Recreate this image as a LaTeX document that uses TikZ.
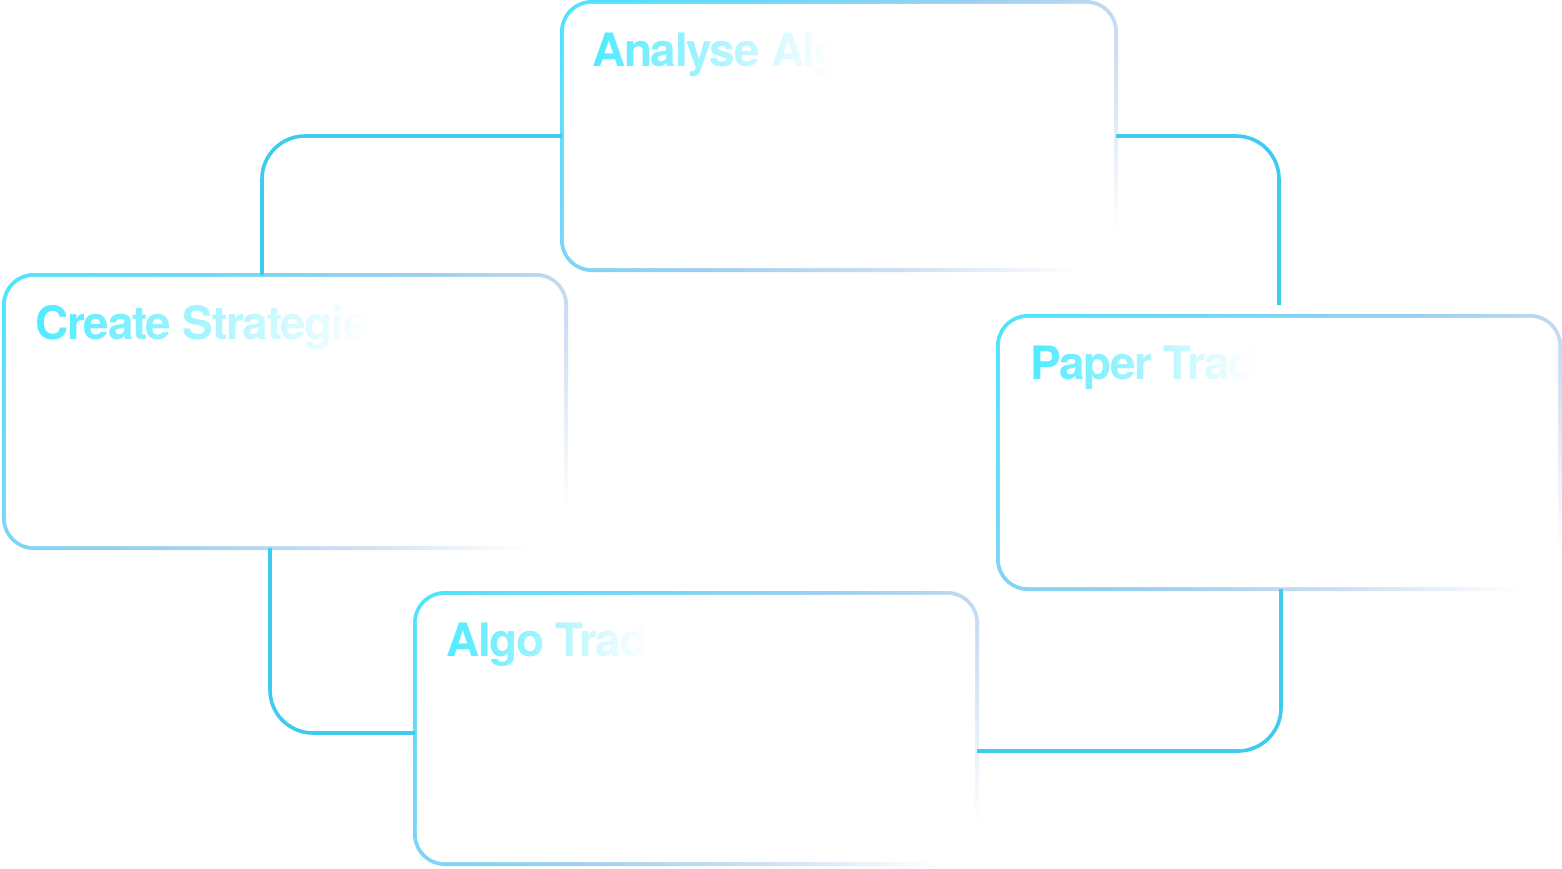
\documentclass[tikz,border=0pt]{standalone}
\usepackage{fontspec}
\setmainfont{TeX Gyre Heros}[LetterSpace=-3]
\usetikzlibrary{fadings}
\definecolor{bordA}{HTML}{4BE4FF}
\definecolor{bordB}{HTML}{70D8F6}
\definecolor{bordM}{HTML}{9CCFEF}
\definecolor{bordD}{HTML}{CFDEF2}
\definecolor{connC}{HTML}{3DCCF0}
\definecolor{txtC}{HTML}{4FEBFF}
\pgfdeclarehorizontalshading{bordershade}{100bp}{color(0bp)=(bordA); color(15bp)=(bordA); color(32bp)=(bordB); color(50bp)=(bordM); color(67bp)=(bordD); color(82bp)=(white); color(100bp)=(white)}
\tikzfading[name=fadeR, left color=transparent!100, right color=transparent!0]
\begin{document}
\begin{tikzpicture}[x=1pt,y=-1pt,
  boxnode/.style={rectangle, inner sep=0pt, outer sep=0pt},
  ttl/.style={anchor=base west, inner sep=0pt, text=txtC, font=\bfseries\fontsize{46}{50}\selectfont},
  conn/.style={draw=connC, line width=3.6pt, rounded corners=43pt},
  cover/.style={white, path fading=fadeR}]
\useasboundingbox[fill=white] (0,0) rectangle (1562,868);
% box nodes (stroke centre lines)
\node[boxnode, minimum width=554pt, minimum height=268pt] (A) at (839,136) {};
\node[boxnode, minimum width=562pt, minimum height=273pt] (C) at (285,411.5) {};
\node[boxnode, minimum width=562pt, minimum height=273pt] (P) at (1279,452.5) {};
\node[boxnode, minimum width=562pt, minimum height=271pt] (G) at (696,728.5) {};
% box borders
\foreach \b in {A,C,P,G}{
  \shade[shading=bordershade, shading angle=-45, rounded corners=32pt]
    ([shift={(-2pt,2pt)}]\b.north west) rectangle ([shift={(2pt,-2pt)}]\b.south east);
  \fill[white, rounded corners=28pt]
    ([shift={(1.8pt,-1.8pt)}]\b.north west) rectangle ([shift={(-1.8pt,1.8pt)}]\b.south east);
}
% titles
\node[ttl] (tA) at (592,66.5) {Analyse Alg};
\node[ttl] (tC) at (35,339) {Create Strategie};
\node[ttl] (tP) at (1030,379) {Paper Trad};
\node[ttl] (tG) at (446,656) {Algo Trad};
\fill[cover] (592,20) rectangle (830,82);
\fill[white] (830,20) rectangle (940,82);
\fill[cover] (35,292) rectangle (368,356);
\fill[white] (368,292) rectangle (470,356);
\fill[cover] (1030,332) rectangle (1252,396);
\fill[white] (1252,332) rectangle (1340,396);
\fill[cover] (446,609) rectangle (645,673);
\fill[white] (645,609) rectangle (740,673);
% connectors
\coordinate (pEnd) at (1279,305);
\draw[conn] ([xshift=258pt]C.north west) |- (A.west);
\draw[conn] (A.east) -| (pEnd);
\draw[conn] ([xshift=266pt]C.south west) |- ([yshift=-4.5pt]G.west);
\draw[conn] ([xshift=283pt]P.south west) |- ([yshift=-22.5pt]G.east);
\end{tikzpicture}
\end{document}
